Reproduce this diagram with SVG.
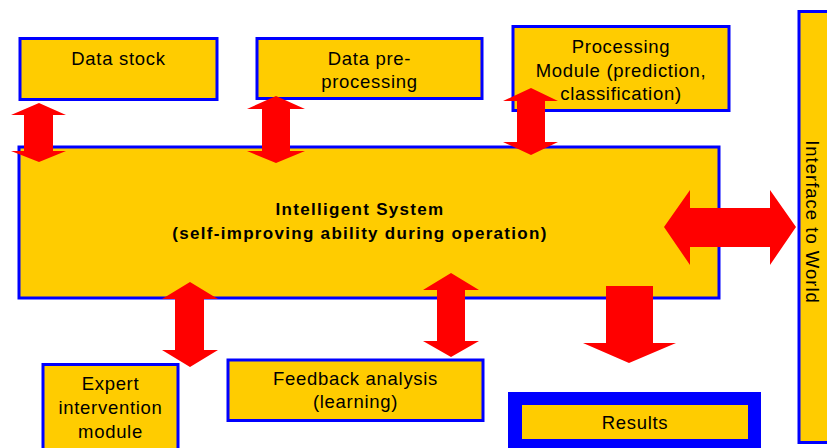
<svg xmlns="http://www.w3.org/2000/svg" width="827" height="448" viewBox="0 0 827 448">
<style>
.box{fill:#FFCC00;stroke:#0000FF;stroke-width:3}
.t{font-family:"Liberation Sans",Arial,sans-serif;font-size:18.5px;letter-spacing:0.7px;fill:#000;text-anchor:middle}
.b{font-family:"Liberation Sans",Arial,sans-serif;font-size:17px;font-weight:bold;letter-spacing:1.3px;fill:#000;text-anchor:middle}
.arr{fill:#FF0000}
</style>
<rect width="827" height="448" fill="#fff"/>
<g id="data-stock"><rect class="box" x="20" y="38.5" width="197" height="61"/><text class="t" x="118.5" y="65">Data stock</text></g>
<g id="data-preprocessing"><rect class="box" x="257" y="38.5" width="225" height="60"/><text class="t" x="369.5" y="65">Data pre-</text><text class="t" x="369.5" y="88">processing</text></g>
<g id="processing-module"><rect class="box" x="513" y="26.5" width="216" height="84"/><text class="t" x="621" y="53">Processing</text><text class="t" x="621" y="76.5">Module (prediction,</text><text class="t" x="621" y="100">classification)</text></g>
<g id="intelligent-system"><rect class="box" x="19" y="147" width="700" height="151" stroke-width="4"/><text class="b" x="360" y="215">Intelligent System</text><text class="b" x="360" y="239">(self-improving ability during operation)</text></g>
<g id="interface-to-world"><rect class="box" x="799" y="11.5" width="40" height="431" stroke-width="2.5"/><text class="t" style="letter-spacing:1px" transform="translate(806,222) rotate(90)" x="0" y="0">Interface to World</text></g>
<g id="expert-intervention"><rect class="box" x="43" y="364.5" width="135" height="90"/><text class="t" x="110.5" y="390">Expert</text><text class="t" x="110.5" y="414">intervention</text><text class="t" x="110.5" y="438">module</text></g>
<g id="feedback-analysis"><rect class="box" x="228" y="360" width="255" height="60.5"/><text class="t" x="355.5" y="385">Feedback analysis</text><text class="t" x="355.5" y="408">(learning)</text></g>
<g id="results"><rect x="508" y="392" width="253" height="60" fill="#0000FF"/><rect x="522" y="405" width="226" height="34" fill="#FFCC00"/><text class="t" x="635" y="429">Results</text></g>
<g id="connectors">
<polygon class="arr" points="39,103 66,115 53,115 53,151 66,151 39,162 11,151 24,151 24,115 11,115"/>
<polygon class="arr" points="276,96 305,109 290,109 290,151 305,151 276,163 247,151 262,151 262,109 247,109"/>
<polygon class="arr" points="531,88 558,101 545,101 545,142 558,142 531,155 503,142 517,142 517,101 503,101"/>
<polygon class="arr" points="190,282 218,299 204,299 204,350 218,350 190,367 162,350 175,350 175,299 162,299"/>
<polygon class="arr" points="451,273 479,290 465,290 465,341 479,341 451,357 423,341 437,341 437,290 423,290"/>
<polygon class="arr" points="606,286 653,286 653,343 676,343 629,363 583,343 606,343"/>
<polygon class="arr" points="664,227 690,190 690,208 770,208 770,190 796,227 770,265 770,247 690,247 690,265"/>
</g>
</svg>
